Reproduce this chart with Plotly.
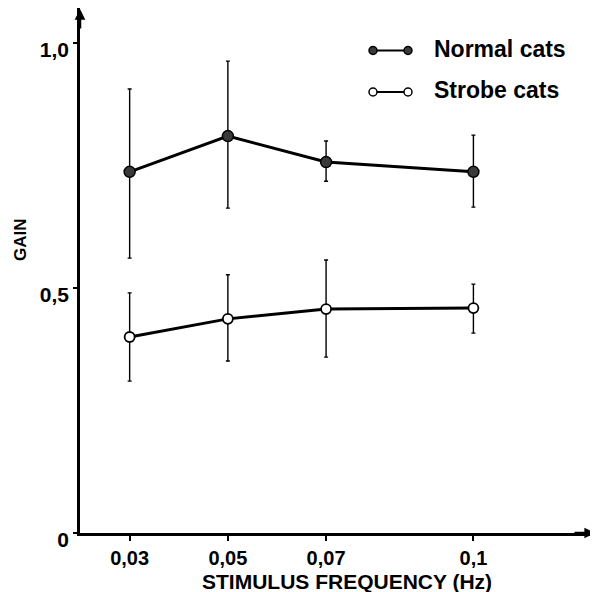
import plotly.graph_objects as go

# ---- data ----
freq = [0.03, 0.05, 0.07, 0.1]
freq_labels = ["0,03", "0,05", "0,07", "0,1"]

normal_gain = [0.737, 0.810, 0.757, 0.737]
normal_upper = [0.906, 0.963, 0.800, 0.812]
normal_lower = [0.561, 0.663, 0.718, 0.665]

strobe_gain = [0.400, 0.437, 0.457, 0.459]
strobe_upper = [0.490, 0.527, 0.557, 0.508]
strobe_lower = [0.310, 0.351, 0.359, 0.408]

y_ticks = [0, 0.5, 1.0]
y_tick_labels = ["0", "0,5", "1,0"]

series_names = ["Normal cats", "Strobe cats"]

# ---- layout geometry ----
# the page body adds an 8px margin, so the figure is drawn 8px smaller
OFF = 8
W, H = 598 - OFF, 592 - OFF
# plot area in screen pixels: x 80..595, y 8..533
SX0, SX1, SY0, SY1 = 80, 595, 8, 533
ML, MR, MT, MB = SX0 - OFF, W - (SX1 - OFF), SY0 - OFF, H - (SY1 - OFF)
PW, PH = SX1 - SX0, SY1 - SY0
FONT = "Liberation Sans, Arial, Helvetica, sans-serif"


def px_x(p):
    return (p - SX0) / PW


def px_y(p):
    return (SY1 - p) / PH


def err(vals, hi, lo):
    return ([h - v for h, v in zip(hi, vals)], [v - l for v, l in zip(vals, lo)])


fig = go.Figure()

nu, nl = err(normal_gain, normal_upper, normal_lower)
su, sl = err(strobe_gain, strobe_upper, strobe_lower)

fig.add_trace(go.Scatter(
    x=freq, y=normal_gain, mode="lines+markers", name=series_names[0],
    line=dict(color="black", width=3),
    marker=dict(size=11, color="#3a3a3a", line=dict(color="black", width=1.5)),
    error_y=dict(type="data", array=nu, arrayminus=nl, color="black",
                 thickness=1.4, width=2),
    showlegend=False,
))
fig.add_trace(go.Scatter(
    x=freq, y=strobe_gain, mode="lines+markers", name=series_names[1],
    line=dict(color="black", width=3),
    marker=dict(size=10, color="white", line=dict(color="black", width=1.8)),
    error_y=dict(type="data", array=su, arrayminus=sl, color="black",
                 thickness=1.4, width=2),
    showlegend=False,
))

fig.update_layout(
    width=W, height=H,
    margin=dict(l=ML, r=MR, t=MT, b=MB, pad=0),
    paper_bgcolor="white", plot_bgcolor="white",
    font=dict(family=FONT, color="black"),
    xaxis=dict(
        range=[0.01989, 0.12476], showgrid=False, zeroline=False,
        showline=True, linecolor="black", linewidth=2.5,
        tickmode="array", tickvals=freq, ticktext=freq_labels,
        ticks="outside", ticklen=5, tickwidth=1.5, tickcolor="black",
        tickfont=dict(family=FONT, size=20, weight="bold"),
        ticklabelstandoff=0,
    ),
    yaxis=dict(
        range=[0, (SY1 - SY0) / 490.0], showgrid=False, zeroline=False,
        showline=True, linecolor="black", linewidth=2.5,
        tickmode="array", tickvals=y_ticks, ticktext=y_tick_labels,
        ticks="outside", ticklen=4, tickwidth=1.5, tickcolor="black",
        tickfont=dict(family=FONT, size=21, weight="bold"),
        ticklabelshift=7,
    ),
)

annotations = []
# axis arrowheads
annotations.append(dict(xref="paper", yref="paper", x=0, y=1, ax=0, ay=22,
                        text="", showarrow=True, arrowhead=2, arrowsize=0.85,
                        arrowwidth=2.5, arrowcolor="black", standoff=0))
annotations.append(dict(xref="paper", yref="paper", x=1, y=0, ax=-22, ay=0,
                        text="", showarrow=True, arrowhead=2, arrowsize=0.85,
                        arrowwidth=2.5, arrowcolor="black", standoff=0))
# axis titles
annotations.append(dict(xref="paper", yref="paper", x=px_x(347), y=px_y(581),
                        text="STIMULUS FREQUENCY (Hz)", showarrow=False,
                        xanchor="center", yanchor="middle",
                        font=dict(family=FONT, size=21, weight="bold")))
annotations.append(dict(xref="paper", yref="paper", x=px_x(20), y=px_y(240),
                        text="GAIN", showarrow=False, textangle=-90,
                        xanchor="center", yanchor="middle",
                        font=dict(family=FONT, size=17, weight="bold")))

# manual legend
legend_rows = [(50.5, "#3a3a3a"), (92, "white")]
shapes = []
for (ly, fill), name in zip(legend_rows, series_names):
    x1, x2 = 373, 408
    shapes.append(dict(type="line", xref="paper", yref="paper",
                       x0=px_x(x1), x1=px_x(x2), y0=px_y(ly), y1=px_y(ly),
                       line=dict(color="black", width=2)))
    for cx in (x1, x2):
        r = 4
        shapes.append(dict(type="circle", xref="paper", yref="paper",
                           x0=px_x(cx - r), x1=px_x(cx + r),
                           y0=px_y(ly + r), y1=px_y(ly - r),
                           fillcolor=fill, line=dict(color="black", width=1.5)))
    annotations.append(dict(xref="paper", yref="paper", x=px_x(432), y=px_y(ly - 2),
                            text=name, showarrow=False, xanchor="left",
                            yanchor="middle",
                            font=dict(family=FONT, size=23, weight="bold")))

fig.update_layout(annotations=annotations, shapes=shapes)

fig.write_html("out.html")
